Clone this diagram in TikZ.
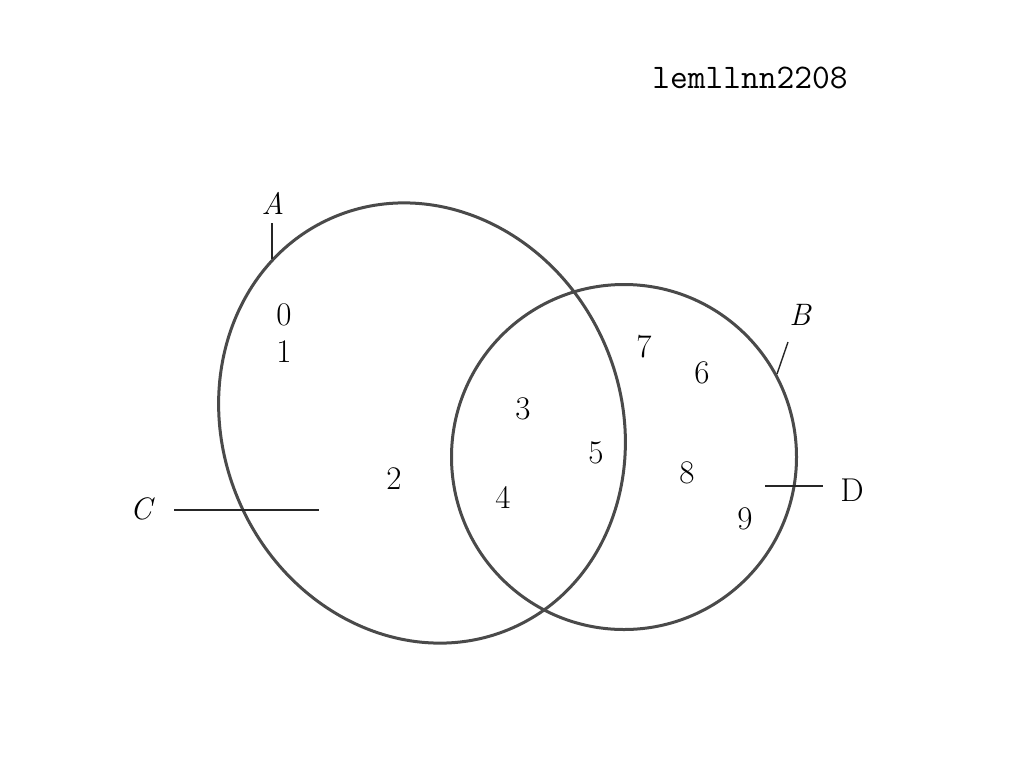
\documentclass[tikz,border=0pt]{standalone}
\usepackage{tikz}
\definecolor{setgray}{HTML}{4A4A4A}
\begin{document}
\begin{tikzpicture}[x=1pt,y=-1pt,
  setline/.style={draw=setgray,line width=3pt},
  tickline/.style={draw=black!85,line width=1.4pt},
  num/.style={inner sep=0pt,font=\fontsize{33}{36}\selectfont},
  setlab/.style={inner sep=0pt,font=\fontsize{31}{34}\selectfont\itshape}]
\useasboundingbox (0,0) rectangle (1024,761);
\fill[white] (0,0) rectangle (1024,761);
% sets
\draw[setline,rotate around={24:(422,423)}] (422,423) ellipse [x radius=199pt, y radius=224pt];
\draw[setline] (624,457) circle [radius=172.5pt];
% title
\node[inner sep=0pt,font=\fontsize{34.5}{36}\selectfont\ttfamily] (title) at (750,78) {lemllnn2208};
% labels
\node[setlab] (labA) at (273,203) {A};
\node[setlab] (labB) at (800,315) {B};
\node[setlab] (labC) at (141,509) {C};
\node[num] (labD) at (852,490) {D};
% ticks
\coordinate (a1) at (272,223); \coordinate (a2) at (272,259);
\coordinate (b1) at (788,342); \coordinate (b2) at (777,374);
\coordinate (c1) at (174,510); \coordinate (c2) at (319,510);
\coordinate (d1) at (765,486); \coordinate (d2) at (823,486);
\draw[tickline] (a1) -- (a2);
\draw[tickline] (b1) -- (b2);
\draw[tickline] (c1) -- (c2);
\draw[tickline] (d1) -- (d2);
% elements
\node[num] (n0) at (284,315) {0};
\node[num] (n1) at (284,352) {1};
\node[num] (n2) at (394,479) {2};
\node[num] (n3) at (523,409) {3};
\node[num] (n4) at (503,497) {4};
\node[num] (n5) at (596,453) {5};
\node[num] (n7) at (644,347) {7};
\node[num] (n6) at (702,373) {6};
\node[num] (n8) at (687,473) {8};
\node[num] (n9) at (745,519) {9};
\end{tikzpicture}
\end{document}
